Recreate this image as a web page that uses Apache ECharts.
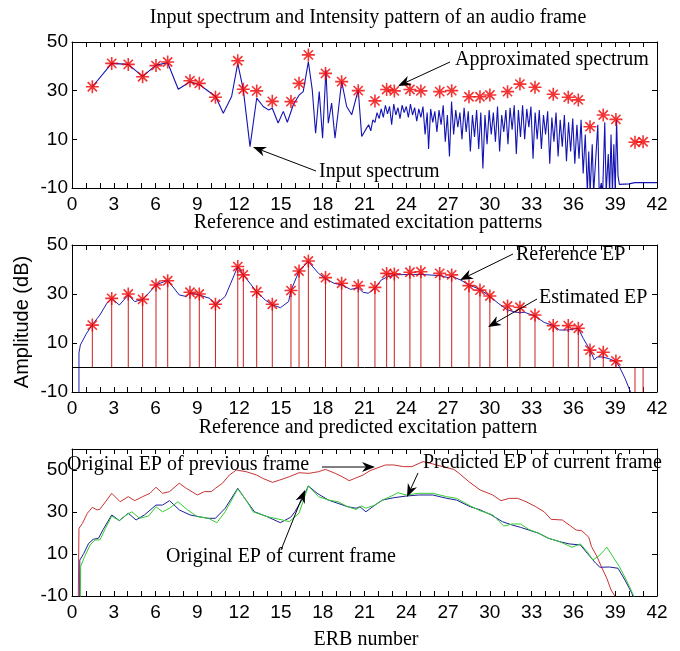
<!DOCTYPE html>
<html>
<head>
<meta charset="utf-8">
<script src="https://cdn.jsdelivr.net/npm/echarts@6/dist/echarts.min.js"></script>
<style>
  html, body { margin: 0; padding: 0; background: #fff; }
  #chart { width: 680px; height: 651px; }
</style>
</head>
<body>
<div id="chart"></div>
<script>
// ERB positions of the analysed bands (stars / stems)
let bandErb = [1.46, 2.85, 4.04, 5.07, 6.03, 6.87, 8.47, 9.14, 10.3, 11.9, 12.3, 13.26, 14.38, 15.72, 16.3, 16.97,
    18.2, 19.36, 20.55, 21.75, 22.59, 23.14, 24.26, 25.05, 26.4, 27.26, 28.5, 29.29, 30.0, 31.27, 32.16, 33.24,
    34.55, 35.63, 36.35, 37.19, 38.14, 39.05, 40.42, 41.0];
// panel 1 : approximated spectrum (red stars)
let approxSpectrum = [31.6, 41.2, 40.8, 35.7, 40.3, 41.8, 34.1, 33.0, 27.3, 42.3, 30.6, 29.9, 25.6, 25.5, 33.0, 44.7,
    37.1, 33.7, 30.0, 25.8, 30.5, 29.9, 30.5, 29.9, 29.6, 30.0, 27.5, 27.5, 28.2, 29.6, 32.7, 31.4,
    28.5, 27.3, 26.2, 15.2, 20.0, 18.2, 8.8, 9.0];
// panel 2 : estimated EP (red stems)
let estimatedEp = [17.3, 28.2, 30.0, 27.8, 33.7, 35.4, 30.7, 30.0, 25.8, 41.2, 37.8, 30.9, 25.8, 31.4, 39.4, 43.5,
    36.7, 34.4, 33.4, 32.7, 38.4, 38.2, 38.9, 39.1, 38.4, 37.8, 33.4, 31.6, 29.2, 25.1, 24.6, 21.4,
    17.1, 17.1, 16.0, 7.1, 6.2, 2.7, -15, -15];

// panel 1 : input spectrum [erb, dB]
let inputSpectrum = [[1.46,31.6],[2.85,41.2],[4.04,40.8],[5.07,35.9],[6.03,40.5],[6.87,41.5],[7.63,30.6],[8.47,33.7],
    [9.19,32.3],[9.67,30.3],[10.31,27.6],[10.86,20.7],[11.46,27.6],[11.9,41.2],[12.3,30.3],[12.78,7.0],[13.26,26.9],
    [13.73,23.5],[14.1,22.1],[14.38,22.8],[14.8,16.7],[15.17,21.5],[15.46,17],[15.89,24.2],[16.32,28.3],[16.6,29.6],
    [16.97,41.9],[17.25,30.3],[17.49,12.5],[17.75,29.6],[17.99,10.5],[18.23,38.5],[18.4,16.6],[18.64,24.9],[18.88,10.5],
    [19.1,20.8],[19.36,33.8],[19.72,23.5],[20.08,20.1],[20.55,30.3],[20.8,11.2],[21.15,14.6],[21.3,16],[21.45,13.5],
    [21.6,18],[21.75,17],[21.9,21],[22.05,18.5],[22.2,22.5],[22.35,19],[22.5,24],[22.65,20.5],[22.8,23.5],[22.95,16],
    [23.1,24.5],[23.25,20],[23.4,23],[23.55,18.5],[23.7,24],[23.85,21],[24.0,23.5],[24.15,19],[24.3,24.5],[24.45,20],
    [24.6,23],[24.75,17.5],[24.9,22.5],[25.05,19],[25.2,23.5],[25.35,12],[25.5,21],[25.6,6],[25.75,22.5],[25.9,17],
    [26.05,21.5],[26.2,13],[26.35,22],[26.5,16],[26.65,24],[26.8,9],[26.95,20],[27.1,3],[27.25,25.5],[27.4,12],
    [27.55,22],[27.7,15],[27.85,21],[28.0,10],[28.15,23],[28.3,13],[28.45,21.5],[28.6,5],[28.75,20],[28.9,11],
    [29.05,22],[29.2,6],[29.35,21],[29.5,-2],[29.65,20],[29.8,8],[29.95,22],[30.1,12],[30.25,21],[30.4,9],[30.55,23.5],
    [30.7,5],[30.85,20],[31.0,13],[31.15,22],[31.3,8],[31.45,23],[31.6,14],[31.75,24],[31.9,4],[32.05,22],[32.2,11],
    [32.35,24],[32.5,10],[32.65,22.5],[32.8,15],[32.95,23.5],[33.1,2],[33.25,21],[33.4,10],[33.55,22],[33.7,6],
    [33.85,20],[34.0,12],[34.15,21.5],[34.3,0],[34.45,19],[34.6,9],[34.75,21],[34.9,3],[35.05,18],[35.2,7],[35.35,20],
    [35.5,1],[35.65,17],[35.8,5],[35.95,18.5],[36.1,0],[36.25,16],[36.4,2],[36.55,18],[36.7,-4],[36.85,12],[37.0,-12],
    [37.1,5],[37.2,-12],[37.35,8],[37.45,-12],[37.6,2],[37.75,16],[37.85,-12],[38.0,-8],[38.1,-12],[38.25,17],
    [38.35,-12],[38.5,4],[38.6,-12],[38.7,12],[38.8,-12],[38.9,8],[39.0,-12],[39.1,18],[39.2,-5],[39.3,-8.5],
    [40.0,-8.3],[40.4,-7.8],[42,-7.8]];

// panel 2 : reference EP
let referenceEp = [[0.5,-20],[0.5,5.9],[0.6,9.2],[1.05,14],[1.53,18],[2.0,21.4],[2.5,26.2],[2.85,28.2],[3.4,25.5],
    [4.04,29.6],[4.5,26.9],[5.07,27.8],[5.5,30.3],[6.03,33.7],[6.87,35.6],[7.7,29.6],[8.2,29],[8.47,30.5],[9.14,29.6],
    [9.9,28.2],[10.31,25.6],[11.0,29],[11.9,41.2],[12.3,37.8],[13.26,30.9],[13.88,27.5],[14.38,25.6],[14.96,24.4],
    [15.55,26.9],[15.72,31.4],[16.3,39.4],[16.97,43.2],[17.7,38.4],[18.2,36.3],[18.8,34.4],[19.36,33.7],[20.0,31.9],
    [20.55,32.5],[20.9,30.7],[21.26,30.3],[21.75,32.3],[22.2,35.7],[22.6,36.9],[23.14,37.8],[24.26,38],[25.05,38],
    [26.4,37.5],[27.0,36.7],[27.26,37.3],[27.9,35.7],[28.5,33.7],[29.29,31.9],[30.0,29],[30.6,26.2],[31.27,23.5],
    [31.9,22.5],[32.5,22.5],[33.2,21.1],[33.9,18.4],[34.55,17.1],[35.0,15.3],[35.63,15.3],[36.35,16],[36.7,11.9],
    [37.2,7.1],[37.5,3.1],[37.7,4.3],[38.1,4.3],[38.6,3.5],[39.05,2.4],[39.3,0.3],[39.7,-4.4],[40.1,-10],[40.3,-13]];

// panel 3 : previous frame / current frame / predicted
let previousEp = [[0.45,-12],[0.5,22.2],[0.75,24.6],[1.1,29.4],[1.46,32.2],[1.8,31.0],[2.0,31.3],[2.5,35.7],[2.85,38.9],
    [3.45,34.9],[4.04,37.3],[4.5,35.4],[5.07,37.3],[5.6,38.9],[6.03,41.8],[6.5,38.9],[7.0,39.7],[7.7,43.7],[8.2,41.3],
    [9.0,38.1],[9.5,39.7],[10.0,39.7],[10.3,41.3],[10.8,43.7],[11.3,47.6],[11.8,50],[12.5,49.2],[13.26,47.6],[13.7,46.0],
    [14.4,44.1],[14.9,45.2],[15.6,46.8],[16.3,48.7],[17.0,48.4],[17.7,49.2],[18.2,50.3],[18.9,48.4],[19.4,46.8],
    [19.9,44.9],[20.3,46.0],[20.9,47.6],[21.4,49.7],[22.5,52.4],[23.1,52.4],[23.8,51.6],[24.4,51.6],[25.2,54],
    [25.9,52.9],[26.6,51.6],[27.4,50.3],[27.8,48.4],[28.5,44.4],[29.3,40.5],[29.8,39.2],[30.2,38.1],[30.8,35.4],
    [31.4,36.5],[32.0,36.5],[32.6,34.9],[33.3,32.5],[33.9,30.1],[34.4,26.5],[35.2,26.2],[35.7,23.8],[36.2,21.4],
    [36.6,21.1],[37.1,18],[37.3,13.5],[37.7,8.7],[38.0,4.0],[38.4,-1.6],[38.7,-7.1],[39.0,-10.3],[39.2,-13]];
let currentEp = [[0.55,-12],[0.56,7.1],[0.85,10.3],[1.2,15.1],[1.53,17],[1.9,17.5],[2.25,21.8],[2.85,28.6],[3.4,25.9],
    [4.04,29.4],[4.6,26.2],[5.2,28.6],[6.03,33.3],[6.5,33.3],[7.0,35.4],[7.7,31],[8.47,28.6],[9.1,27.8],[9.75,27],
    [10.3,27],[11.0,31.8],[11.9,41.3],[12.4,36.5],[13.1,30.1],[14.0,27.8],[14.96,24.9],[15.7,27.5],[16.0,30.1],
    [16.5,35.7],[16.97,42.4],[17.6,38.9],[18.4,35.7],[19.1,34.1],[19.8,32.5],[20.4,31.8],[20.67,32.5],[21.1,30.1],
    [21.75,33.3],[22.3,35.7],[23.1,36.8],[24.0,37.6],[24.9,38.1],[25.9,38.1],[26.9,36.5],[27.6,35.7],[28.6,32.5],
    [29.3,31],[30.1,28.6],[30.9,25.4],[31.6,23.8],[32.2,22.7],[32.8,21.4],[33.5,19.9],[34.2,17.5],[35.0,15.9],
    [35.7,14.8],[36.5,14.3],[37.0,10.3],[37.6,5.6],[37.9,3.7],[38.6,3.8],[39.2,3.2],[39.7,-2.4],[40.2,-8.7],[40.35,-12]];
let predictedEp = [[0.6,-12],[0.62,4],[0.9,8.7],[1.3,14.3],[1.65,16.7],[2.0,16.7],[2.4,22.2],[2.85,28],[3.4,25.9],
    [3.9,28.6],[4.3,30.1],[4.85,27],[5.5,28.1],[6.03,32.5],[6.5,30.1],[7.0,31.8],[7.6,34.9],[8.3,31],[9.0,27.8],
    [9.8,27],[10.4,24.9],[11.0,30.1],[11.9,41],[12.5,35.7],[13.0,30.1],[14.0,27.8],[15.1,26.2],[15.6,25.4],[16.3,29.4],
    [16.97,42.4],[17.7,37.3],[18.4,35.7],[19.1,34.9],[19.8,32.5],[20.4,31.2],[20.8,32.9],[21.1,31.8],[21.75,33.3],
    [22.3,35.7],[23.1,38.1],[23.4,39.2],[24.0,38.1],[24.9,38.9],[25.9,38.9],[26.9,37.3],[27.6,36.5],[28.6,32.9],
    [29.3,30.6],[30.2,28.6],[31.0,23.3],[31.6,24.3],[32.2,24.3],[32.8,21.7],[33.5,19.9],[34.2,17.5],[35.0,15.9],
    [35.9,13.2],[36.5,14.8],[37.0,11],[37.4,7.1],[37.9,9.5],[38.4,13.2],[38.9,8.0],[39.3,4.0],[39.8,-2.4],[40.3,-9.5],
    [40.45,-12]];

let yTicksMin = -10;
let panelTitles = ['Input spectrum and Intensity pattern of an audio frame',
    'Reference and estimated excitation patterns',
    'Reference and predicted excitation pattern'];

let serif = '"Liberation Serif", "Times New Roman", serif';
let sans = '"Liberation Sans", Arial, sans-serif';
let starPath = 'path://M10,0L10,20M0,10L20,10M2.9,2.9L17.1,17.1M2.9,17.1L17.1,2.9';

let myChart = echarts.init(document.getElementById('chart'), null, {renderer: 'canvas'});

let gridTops = [42, 245, 449];
let gridHeights = [146, 147, 147];
let yMax = [50, 50, 60];

let grids = [], xAxes = [], yAxes = [];
for (let i = 0; i < 3; i++) {
    grids.push({left: 72, top: gridTops[i], width: 585, height: gridHeights[i], show: false});
    let tick = {show: true, inside: true, length: 5, lineStyle: {color: '#000', width: 1}};
    let line = {show: true, onZero: false, lineStyle: {color: '#000', width: 1}};
    xAxes.push({
        type: 'value', gridIndex: i, min: 0, max: 42, interval: 1, position: 'bottom',
        axisLine: line, axisTick: tick, splitLine: {show: false},
        axisLabel: {
            color: '#000', fontFamily: sans, fontSize: 19, margin: 7,
            formatter: function (v) { return v % 3 === 0 ? String(v) : ''; }
        }
    });
    xAxes.push({
        type: 'value', gridIndex: i, min: 0, max: 42, interval: 1, position: 'top',
        axisLine: line, axisTick: tick, splitLine: {show: false}, axisLabel: {show: false}
    });
    yAxes.push({
        type: 'value', gridIndex: i, min: yTicksMin, max: yMax[i], interval: 20, position: 'left',
        axisLine: line, axisTick: tick, splitLine: {show: false},
        axisLabel: {color: '#000', fontFamily: sans, fontSize: 19, margin: 4, showMaxLabel: i < 2}
    });
    yAxes.push({
        type: 'value', gridIndex: i, min: yTicksMin, max: yMax[i], interval: 20, position: 'right',
        axisLine: line, axisTick: tick, splitLine: {show: false}, axisLabel: {show: false}
    });
}

function stars(values) {
    return bandErb.map(function (x, k) { return [x, values[k]]; });
}

// arrow annotation: tail (x1,y1) -> tip (x2,y2)
function arrow(x1, y1, x2, y2) {
    let a = Math.atan2(y2 - y1, x2 - x1);
    let L = 13, W = 5;
    let bx = x2 - L * Math.cos(a), by = y2 - L * Math.sin(a);
    let nx = -Math.sin(a) * W, ny = Math.cos(a) * W;
    let mx = x2 - 0.7 * L * Math.cos(a), my = y2 - 0.7 * L * Math.sin(a);
    return [
        {type: 'line', shape: {x1: x1, y1: y1, x2: mx, y2: my}, style: {stroke: '#000', lineWidth: 1}, z: 100},
        {type: 'polygon', shape: {points: [[x2, y2], [bx + nx, by + ny], [mx, my], [bx - nx, by - ny]]},
            style: {fill: '#000'}, z: 100}
    ];
}

function label(text, x, y, align, size, font) {
    return {
        type: 'text', x: x, y: y, z: 100,
        style: {text: text, fill: '#000', font: (size || 20) + 'px ' + (font || serif),
            textAlign: align || 'left', textVerticalAlign: 'middle'}
    };
}

let graphics = [
    label(panelTitles[0], 368, 18, 'center'),
    label(panelTitles[1], 368, 223, 'center'),
    label(panelTitles[2], 368, 428, 'center'),
    label('ERB number', 366, 640, 'center'),
    {
        type: 'text', x: 22, y: 322, rotation: Math.PI / 2, z: 100,
        style: {text: 'Amplitude (dB)', fill: '#000', font: '20px ' + sans, textAlign: 'center', textVerticalAlign: 'middle'}
    },
    label('Approximated spectrum', 455, 60),
    label('Input spectrum', 319, 172),
    label('Reference EP', 516, 255),
    label('Estimated EP', 539, 298),
    label('Original EP of previous frame', 67, 465),
    label('Predicted EP of current frame', 423, 463),
    label('Original EP of current frame', 166, 557)
].concat(arrow(450, 62, 398, 86), arrow(316, 171, 253, 147), arrow(513, 254, 460, 280),
    arrow(537, 299, 488, 327), arrow(322, 467, 375, 467), arrow(418, 473, 407, 497), arrow(281, 550, 305, 490));

let starStyle = {color: '#f00000', borderColor: '#f00000', borderWidth: 1.6};

let option = {
    animation: false,
    backgroundColor: '#fff',
    grid: grids,
    xAxis: xAxes,
    yAxis: yAxes,
    graphic: graphics,
    series: [
        {
            name: 'Input spectrum', type: 'line', xAxisIndex: 0, yAxisIndex: 0,
            data: inputSpectrum, showSymbol: false, symbol: 'none', clip: true,
            lineStyle: {color: '#1414b4', width: 1.1}
        },
        {
            name: 'Approximated spectrum', type: 'scatter', xAxisIndex: 0, yAxisIndex: 0,
            data: stars(approxSpectrum), symbol: starPath, symbolSize: 13, symbolKeepAspect: true,
            itemStyle: starStyle, z: 5
        },
        {
            name: 'Estimated EP stems', type: 'custom', xAxisIndex: 2, yAxisIndex: 2, clip: true,
            data: stars(estimatedEp), encode: {x: 0, y: 1},
            renderItem: function (params, api) {
                let p0 = api.coord([api.value(0), 0]);
                let p1 = api.coord([api.value(0), api.value(1)]);
                return {type: 'line', shape: {x1: p0[0], y1: p0[1], x2: p1[0], y2: p1[1]},
                    style: {stroke: '#cc2020', lineWidth: 1}};
            }, z: 2
        },
        {
            name: 'Reference EP', type: 'line', xAxisIndex: 2, yAxisIndex: 2,
            data: referenceEp, showSymbol: false, symbol: 'none', clip: true,
            lineStyle: {color: '#1e1eb0', width: 1}, z: 3,
            markLine: {
                silent: true, symbol: 'none', label: {show: false},
                lineStyle: {color: '#000', type: 'solid', width: 1},
                data: [{yAxis: 0}]
            }
        },
        {
            name: 'Estimated EP', type: 'scatter', xAxisIndex: 2, yAxisIndex: 2,
            data: stars(estimatedEp).filter(function (d) { return d[1] > yTicksMin; }),
            symbol: starPath, symbolSize: 13, symbolKeepAspect: true,
            itemStyle: starStyle, z: 5
        },
        {
            name: 'Original EP of previous frame', type: 'line', xAxisIndex: 4, yAxisIndex: 4,
            data: previousEp, showSymbol: false, symbol: 'none', clip: true,
            lineStyle: {color: '#c83232', width: 1}
        },
        {
            name: 'Original EP of current frame', type: 'line', xAxisIndex: 4, yAxisIndex: 4,
            data: currentEp, showSymbol: false, symbol: 'none', clip: true,
            lineStyle: {color: '#1e1e96', width: 1}
        },
        {
            name: 'Predicted EP of current frame', type: 'line', xAxisIndex: 4, yAxisIndex: 4,
            data: predictedEp, showSymbol: false, symbol: 'none', clip: true,
            lineStyle: {color: '#33cc33', width: 1}
        }
    ]
};
myChart.setOption(option);
</script>
</body>
</html>
